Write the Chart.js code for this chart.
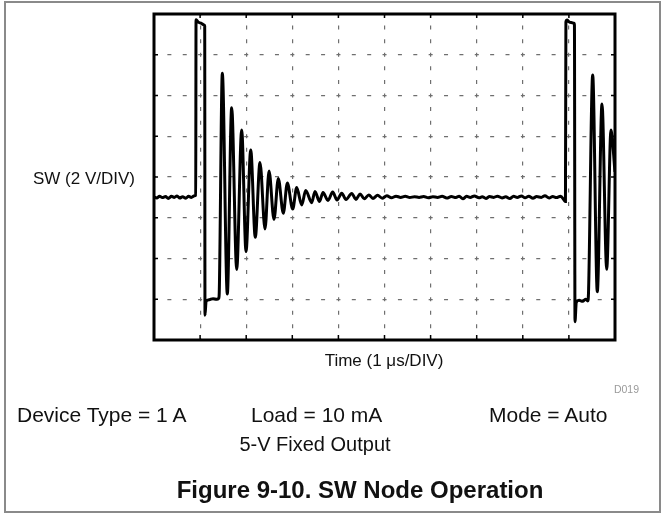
<!DOCTYPE html>
<html>
<head>
<meta charset="utf-8">
<script src="https://cdn.jsdelivr.net/npm/chart.js@4"></script>
<style>
  html, body { margin: 0; padding: 0; background: #fff; }
  #wrap { position: relative; width: 661px; height: 513px; overflow: hidden; font-family: "Liberation Sans", Arial, sans-serif; color: #111; }
  #frame { position: absolute; left: 4px; top: 1px; width: 653px; height: 508px; border: 2px solid #8a8a8a; }
  canvas { position: absolute; left: 0; top: 0; }
  .t { position: absolute; white-space: nowrap; line-height: 1; }
</style>
</head>
<body>
<div id="wrap">
  <div id="frame"></div>
  <canvas id="sw" width="661" height="513"></canvas>
  <div class="t" style="left:33px; top:170px; font-size:17px;">SW (2 V/DIV)</div>
  <div class="t" style="left:384px; top:352px; font-size:17px; transform:translateX(-50%);">Time (1 μs/DIV)</div>
  <div class="t" style="right:22px; top:384px; font-size:10.5px; color:#9a9a9a;">D019</div>
  <div class="t" style="left:17px; top:404px; font-size:21px;">Device Type = 1 A</div>
  <div class="t" style="left:251px; top:404px; font-size:21px;">Load = 10 mA</div>
  <div class="t" style="left:489px; top:404px; font-size:21px;">Mode = Auto</div>
  <div class="t" style="left:315px; top:434px; font-size:20px; transform:translateX(-50%);">5-V Fixed Output</div>
  <div class="t" style="left:360px; top:478px; font-size:24px; font-weight:bold; transform:translateX(-50%);">Figure 9-10. SW Node Operation</div>
</div>
<script>
// Scope trace: time in µs (1 µs/div), SW in volts (2 V/div).
// idle level before the first switching pulse
const preT = [0, 0.06, 0.12, 0.18, 0.25, 0.31, 0.38, 0.44, 0.5, 0.56, 0.62, 0.69, 0.75, 0.81, 0.88, 0.905];
const preV = [5.02, 4.97, 5.06, 4.99, 5.04, 4.95, 5.05, 5.0, 5.07, 4.97, 5.03, 4.96, 5.05, 5.0, 5.08, 5.1];

// first high-side pulse, low-side on, then release
const pulse1T = [0.912, 0.93, 0.96, 1.02, 1.091, 1.1, 1.106, 1.13, 1.2, 1.28, 1.36, 1.405, 1.415];
const pulse1V = [13.72, 13.68, 13.6, 13.55, 13.46, 13.4, -0.78, -0.1, -0.02, 0.03, 0.0, 0.05, 0.3];

// ringing peaks / troughs after the low side turns off
const ringT = [1.482, 1.59, 1.685, 1.794, 1.902, 1.996, 2.098, 2.197, 2.299, 2.408, 2.495, 2.603,
  2.696, 2.805, 2.892, 3.009, 3.095, 3.204, 3.291, 3.421, 3.492, 3.59, 3.666, 3.774, 3.876, 3.97,
  4.072, 4.165, 4.289, 4.382, 4.469];
const ringV = [11.09, 0.26, 9.4, 1.46, 8.31, 2.34, 7.33, 3.04, 6.71, 3.45, 6.29, 3.92,
  5.93, 4.22, 5.71, 4.43, 5.48, 4.63, 5.34, 4.74, 5.29, 4.8, 5.24, 4.85, 5.26, 4.87,
  5.2, 4.9, 5.19, 4.9, 5.17];

// settled at Vout until the next pulse
const idleT = [4.56, 4.66, 4.75, 4.85, 4.95, 5.05, 5.15, 5.25, 5.35, 5.45, 5.55, 5.65, 5.75, 5.85,
  5.95, 6.05, 6.15, 6.25, 6.35, 6.45, 6.55, 6.62, 6.7, 6.78, 6.86, 6.95, 7.05, 7.12, 7.2, 7.28,
  7.37, 7.45, 7.55, 7.63, 7.72, 7.8, 7.88, 7.97, 8.05, 8.13, 8.22, 8.3, 8.4, 8.48, 8.57, 8.65,
  8.73, 8.82, 8.9, 8.925];
const idleV = [4.93, 5.12, 4.95, 5.1, 4.96, 5.08, 4.98, 5.06, 5.0, 5.05, 4.99, 5.03, 5.0, 5.04,
  4.98, 5.03, 5.0, 5.05, 4.97, 5.04, 4.99, 5.06, 4.93, 5.05, 5.0, 5.07, 4.98, 5.03, 4.95, 5.04,
  5.0, 5.06, 4.97, 5.03, 4.94, 5.05, 5.0, 5.07, 4.98, 5.05, 4.96, 5.04, 5.0, 5.08, 4.97, 5.04,
  4.99, 5.06, 4.85, 4.8];

// second pulse, cut by the right edge of the screen
const pulse2T = [8.935, 8.96, 9.0, 9.05, 9.111, 9.12, 9.132, 9.16, 9.22, 9.3, 9.36, 9.41, 9.425,
  9.516, 9.616, 9.718, 9.82, 9.913, 10.0];
const pulse2V = [13.6, 13.7, 13.62, 13.58, 13.54, 13.45, -1.1, -0.15, -0.05, -0.1, 0.0, -0.08, 0.3,
  11.0, 0.37, 9.58, 1.47, 8.31, 6.25];

// screen divisions
const xDivs = [0, 1, 2, 3, 4, 5, 6, 7, 8, 9, 10];
const yDivs = [-2, 0, 2, 4, 6, 8, 10, 12, 14];

const timeUs = [...preT, ...pulse1T, ...ringT, ...idleT, ...pulse2T];
const swVolts = [...preV, ...pulse1V, ...ringV, ...idleV, ...pulse2V];
const trace = timeUs.map((t, i) => ({ x: t, y: swVolts[i] }));

// scope frame: thick box + small inward ticks on every division
const scopeFrame = {
  id: "scopeFrame",
  afterDraw(chart) {
    const { ctx, chartArea: a, scales } = chart;
    ctx.save();
    ctx.strokeStyle = "#000";
    ctx.lineWidth = 1.5;
    ctx.beginPath();
    for (const v of xDivs) {
      const px = scales.x.getPixelForValue(v);
      ctx.moveTo(px, a.bottom); ctx.lineTo(px, a.bottom - 5);
      ctx.moveTo(px, a.top); ctx.lineTo(px, a.top + 4);
    }
    for (const v of yDivs) {
      const py = scales.y.getPixelForValue(v);
      ctx.moveTo(a.left, py); ctx.lineTo(a.left + 4, py);
      ctx.moveTo(a.right, py); ctx.lineTo(a.right - 4, py);
    }
    ctx.stroke();
    ctx.lineWidth = 3;
    ctx.strokeRect(a.left, a.top, a.right - a.left, a.bottom - a.top);
    ctx.restore();
  },
};

new Chart(document.getElementById("sw"), {
  type: "line",
  data: {
    datasets: [{
      data: trace,
      borderColor: "#000",
      borderWidth: 3,
      pointRadius: 0,
      cubicInterpolationMode: "monotone",
      fill: false,
    }],
  },
  options: {
    responsive: false,
    animation: false,
    layout: { padding: { left: 154, top: 14, right: 46, bottom: 173 } },
    plugins: { legend: { display: false }, tooltip: { enabled: false } },
    scales: {
      x: {
        type: "linear",
        min: 0, max: 10,
        afterBuildTicks: (s) => { s.ticks = xDivs.map((v) => ({ value: v })); },
        ticks: { display: false },
        grid: { color: "#6f6f6f", lineWidth: 1.2, drawTicks: false },
        border: { display: false, dash: [4, 9.58], dashOffset: 2 },
      },
      y: {
        type: "linear",
        min: -2, max: 14,
        afterBuildTicks: (s) => { s.ticks = yDivs.map((v) => ({ value: v })); },
        ticks: { display: false },
        grid: { color: "#6f6f6f", lineWidth: 1.2, drawTicks: false },
        border: { display: false, dash: [4, 11.37], dashOffset: 2 },
      },
    },
  },
  plugins: [scopeFrame],
});
</script>
</body>
</html>
